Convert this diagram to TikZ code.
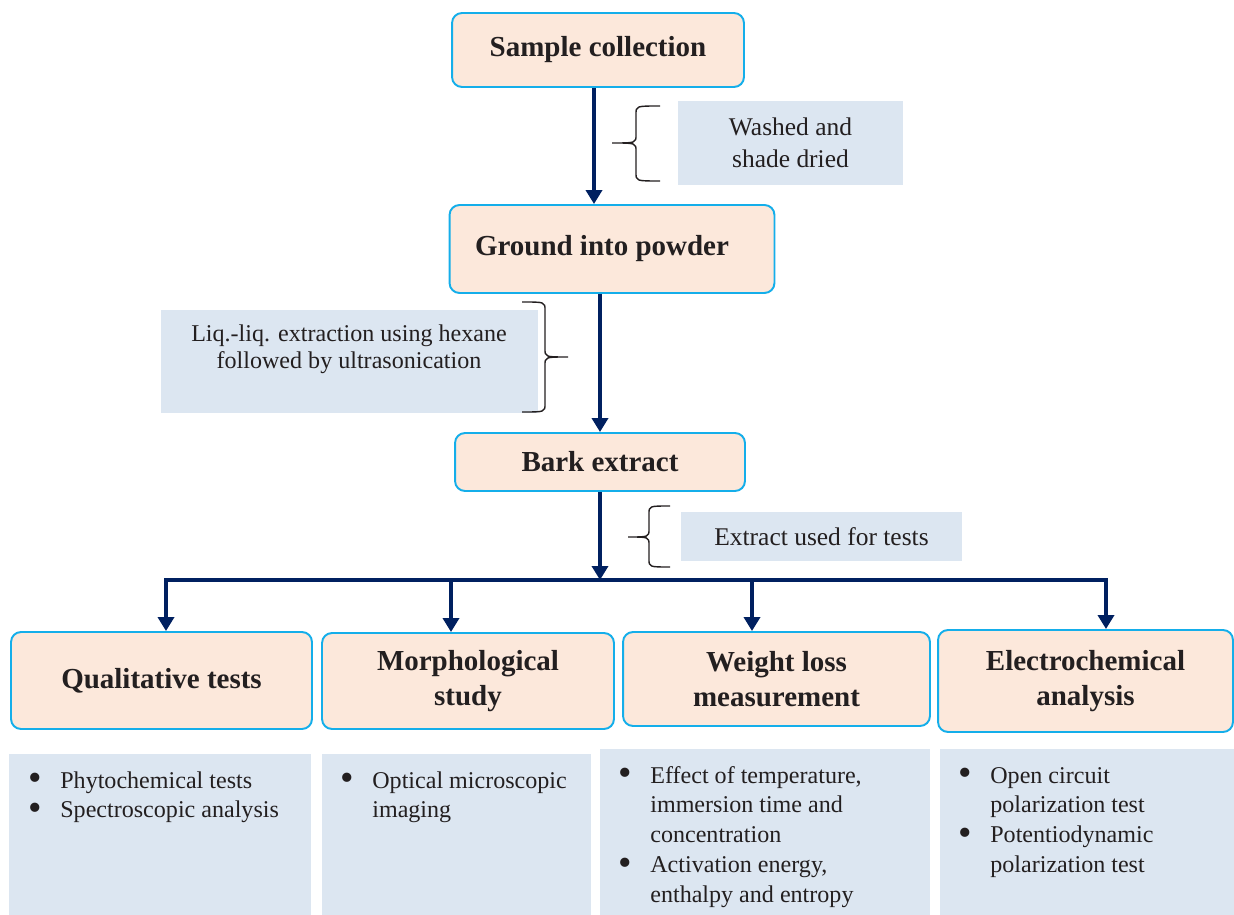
\documentclass[tikz,border=0pt]{standalone}
\usepackage{fontspec}
\setmainfont{Liberation Serif}
\usetikzlibrary{arrows.meta}

\definecolor{boxline}{HTML}{14AEEA}
\definecolor{boxfill}{HTML}{FCE8DB}
\definecolor{notefill}{HTML}{DCE6F1}
\definecolor{flowblue}{HTML}{002060}
\definecolor{inkgray}{HTML}{231F20}

\newcommand{\itemdot}{\raisebox{-0.25ex}{\scalebox{1.6}{\textbullet}}}
\newcommand{\itemlist}[1]{\fontsize{13.7}{17}\selectfont
  \begin{tabular}[t]{@{}p{0.64cm}@{}l@{}}#1\end{tabular}}

\begin{document}
\begin{tikzpicture}[x=0.02cm, y=-0.02cm,
    stage/.style={draw=boxline, line width=1.1pt, fill=boxfill, rounded corners=0.2cm,
      text=inkgray, font=\fontsize{16.5}{19.5}\selectfont\bfseries, align=center},
    note/.style={fill=notefill, text=inkgray, font=\fontsize{14.5}{18.2}\selectfont,
      align=center, inner sep=0pt},
    listbox/.style={fill=notefill, inner sep=0pt},
    listtext/.style={anchor=base west, inner sep=0pt, text=inkgray},
    flow/.style={draw=flowblue, line width=2.8pt, -{Triangle[length=0.28cm, width=0.32cm]}},
    curly/.style={draw=inkgray, line width=0.8pt}]
  \useasboundingbox (0,0) rectangle (1234,915);

  % preparation steps
  \node[stage, minimum width=5.84cm, minimum height=1.48cm] (sample) at (598,50) {Sample collection};
  \node[stage, minimum width=6.5cm, minimum height=1.76cm] (ground) at (612,249) {Ground into powder\hspace{0.4cm}};
  \node[stage, minimum width=5.8cm, minimum height=1.16cm] (bark) at (600,462) {Bark extract};

  % side notes
  \node[note, minimum width=4.5cm, minimum height=1.68cm] (washed) at (790.5,143) {Washed and\\shade dried};
  \node[note, minimum width=7.54cm, minimum height=2.06cm] (hexane) at (349.5,361.5) {};
  \node[anchor=base, inner sep=0pt, text=inkgray, font=\fontsize{13.7}{14.8}\selectfont] (hexanetext) at (349,342)
    {\begin{tabular}[t]{@{}c@{}}Liq.-liq. extraction using hexane\\followed by ultrasonication\end{tabular}};
  \node[note, minimum width=5.62cm, minimum height=0.98cm] (usage) at (821.5,536.5) {Extract used for tests};

  % braces
  \draw[curly] (660,106) .. controls (636,106) .. (636,114) -- (636,135)
    .. controls (636,143) .. (612,143) .. controls (636,143) .. (636,151) -- (636,173)
    .. controls (636,181) .. (660,181);
  \draw[curly] (522,302) .. controls (545,302) .. (545,310) -- (545,349)
    .. controls (545,357) .. (568,357) .. controls (545,357) .. (545,365) -- (545,404)
    .. controls (545,412) .. (522,412);
  \draw[curly] (670,506) .. controls (649,506) .. (649,514) -- (649,529)
    .. controls (649,537) .. (628,537) .. controls (649,537) .. (649,545) -- (649,559)
    .. controls (649,567) .. (670,567);

  % tests
  \node[stage, minimum width=6.02cm, minimum height=1.94cm] (qualitative) at (161.5,680.5) {Qualitative tests};
  \node[stage, minimum width=5.84cm, minimum height=1.92cm] (morphology) at (468,681) {Morphological\\study};
  \node[stage, minimum width=6.14cm, minimum height=1.88cm] (weightloss) at (776.5,679) {Weight loss\\measurement};
  \node[stage, minimum width=5.9cm, minimum height=2.04cm] (electro) at (1085.5,681) {Electrochemical\\analysis};

  % details
  \node[listbox, minimum width=6.04cm, minimum height=3.22cm] (qualbox) at (160,834.5) {};
  \node[listbox, minimum width=5.38cm, minimum height=3.22cm] (morphbox) at (456.5,834.5) {};
  \node[listbox, minimum width=6.6cm, minimum height=3.32cm] (weightbox) at (765,832) {};
  \node[listbox, minimum width=5.88cm, minimum height=3.32cm] (electrobox) at (1087,832) {};
  \node[listtext] (qualitems) at (28,788)
    {\itemlist{\itemdot & Phytochemical tests\\ \itemdot & Spectroscopic analysis}};
  \node[listtext] (morphitems) at (340,788)
    {\itemlist{\itemdot & Optical microscopic\\ & imaging}};
  \node[listtext] (weightitems) at (618,783)
    {\itemlist{\itemdot & Effect of temperature,\\ & immersion time and\\ & concentration\\
      \itemdot & Activation energy,\\ & enthalpy and entropy}};
  \node[listtext] (electroitems) at (958,783)
    {\itemlist{\itemdot & Open circuit\\ & polarization test\\
      \itemdot & Potentiodynamic\\ & polarization test}};

  % arrows
  \coordinate (q) at (166,580);
  \coordinate (m) at (451,580);
  \coordinate (w) at (752,580);
  \coordinate (e) at (1106,580);
  \draw[flow] ([xshift=-0.08cm]sample.south) -- ([xshift=-0.08cm]sample.south |- ground.north);
  \draw[flow] (bark.north |- ground.south) -- (bark.north);
  \draw[flow] (bark.south) -- (bark.south |- q);
  \draw[flow] (m) -- (q) -- (q |- qualitative.north);
  \draw[flow] (m) -- (e) -- (e |- electro.north);
  \draw[flow] (m) -- (m |- morphology.north);
  \draw[flow] (w) -- (w |- weightloss.north);
\end{tikzpicture}
\end{document}
